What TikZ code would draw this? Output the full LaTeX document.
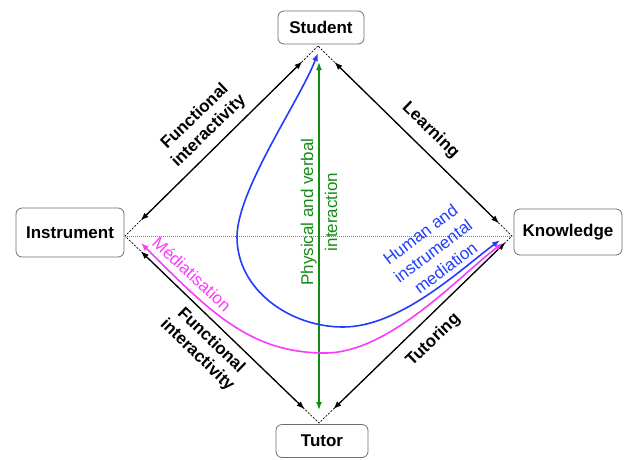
\documentclass[tikz,border=0pt]{standalone}
\usepackage{fontspec}
\setmainfont{Liberation Sans}
\usetikzlibrary{arrows.meta}
\definecolor{boxgray}{RGB}{110,110,110}
\definecolor{grn}{RGB}{20,140,20}
\definecolor{blu}{RGB}{35,60,250}
\definecolor{mag}{RGB}{250,60,250}
\begin{document}
\begin{tikzpicture}[x=1pt,y=-1pt,
  box/.style={draw=boxgray, line width=0.8pt, rounded corners=6pt, fill=white,
    font=\fontsize{17}{20}\selectfont\bfseries, inner sep=0pt},
  dbl/.style={line width=1.3pt, arrows={Latex[length=8pt,width=6pt]-Latex[length=8pt,width=6pt]}},
  dsh/.style={line width=0.7pt, dash pattern=on 2pt off 1.5pt},
  elabel/.style={font=\fontsize{17}{20}\selectfont\bfseries, align=center, inner sep=0pt},
  clabel/.style={align=center, inner sep=0pt}
]
\useasboundingbox (0,0) rectangle (625,459);

% nodes
\node[box, minimum width=86pt, minimum height=33pt] (student) at (321,27.5) {Student};
\node[box, minimum width=108pt, minimum height=49pt] (instrument) at (70,232.5) {Instrument};
\node[box, minimum width=108pt, minimum height=46pt] (knowledge) at (568,232) {Knowledge};
\node[box, minimum width=92pt, minimum height=33pt] (tutor) at (322,441) {Tutor};

% apex points
\coordinate (S) at (318,46);
\coordinate (I) at (125,236);
\coordinate (K) at (512,236);
\coordinate (T) at (319,423);

% dashed diamond and dotted axis
\draw[dsh] (S) -- (I) -- (T) -- (K) -- cycle;
\draw[gray, line width=0.7pt, dash pattern=on 1pt off 1pt] (I) -- (K);

% black double arrows
\draw[dbl, shorten <=22pt, shorten >=22pt] (S) -- (I);
\draw[dbl, shorten <=23pt, shorten >=18pt] (S) -- (K);
\draw[dbl, shorten <=22pt, shorten >=20pt] (I) -- (T);
\draw[dbl, shorten <=9pt, shorten >=20pt] (K) -- (T);

% green interaction arrow
\coordinate (gS) at (319,62);
\coordinate (gT) at (319,410);
\draw[grn, line width=1.5pt, arrows={Latex[length=8pt,width=6pt]-Latex[length=8pt,width=6pt]}] (gT) -- (gS);

% blue mediation curve
\coordinate (bS) at (318,53);
\coordinate (bK) at (500,240);
\draw[blu, line width=1.6pt, arrows={Latex[length=8pt,width=6pt]-Latex[length=8pt,width=6pt]}]
  (bS) .. controls (300,100) and (237,190) .. (237,237)
       .. controls (237,290) and (290,327) .. (343,327)
       .. controls (400,327) and (460,270) .. (bK);

% magenta mediatisation curve
\coordinate (mI) at (141,243);
\coordinate (mK) at (503,243);
\draw[mag, line width=1.6pt, arrows={Latex[length=8pt,width=6pt]-Latex[length=8pt,width=6pt]}]
  (mI) .. controls (210,312) and (250,353) .. (325,353)
       .. controls (390,353) and (460,275) .. (mK);

% labels
\node[elabel, rotate=44] (l1) at (202,124) {Functional\\interactivity};
\node[elabel, rotate=-44] (l2) at (430.5,130.5) {Learning};
\node[elabel, rotate=44] (l3) at (433.5,340) {Tutoring};
\node[elabel, rotate=-44] (l4) at (204,348) {Functional\\interactivity};
\node[clabel, grn, rotate=90, font=\fontsize{17}{24}\selectfont] (l5) at (319,212) {Physical and verbal\\interaction};
\node[clabel, blu, rotate=37, font=\fontsize{17}{21}\selectfont] (l6) at (433,251) {Human and\\instrumental\\mediation};
\node[clabel, mag, rotate=-43, font=\fontsize{17}{20}\selectfont] (l7) at (192,274) {Médiatisation};
\end{tikzpicture}
\end{document}
